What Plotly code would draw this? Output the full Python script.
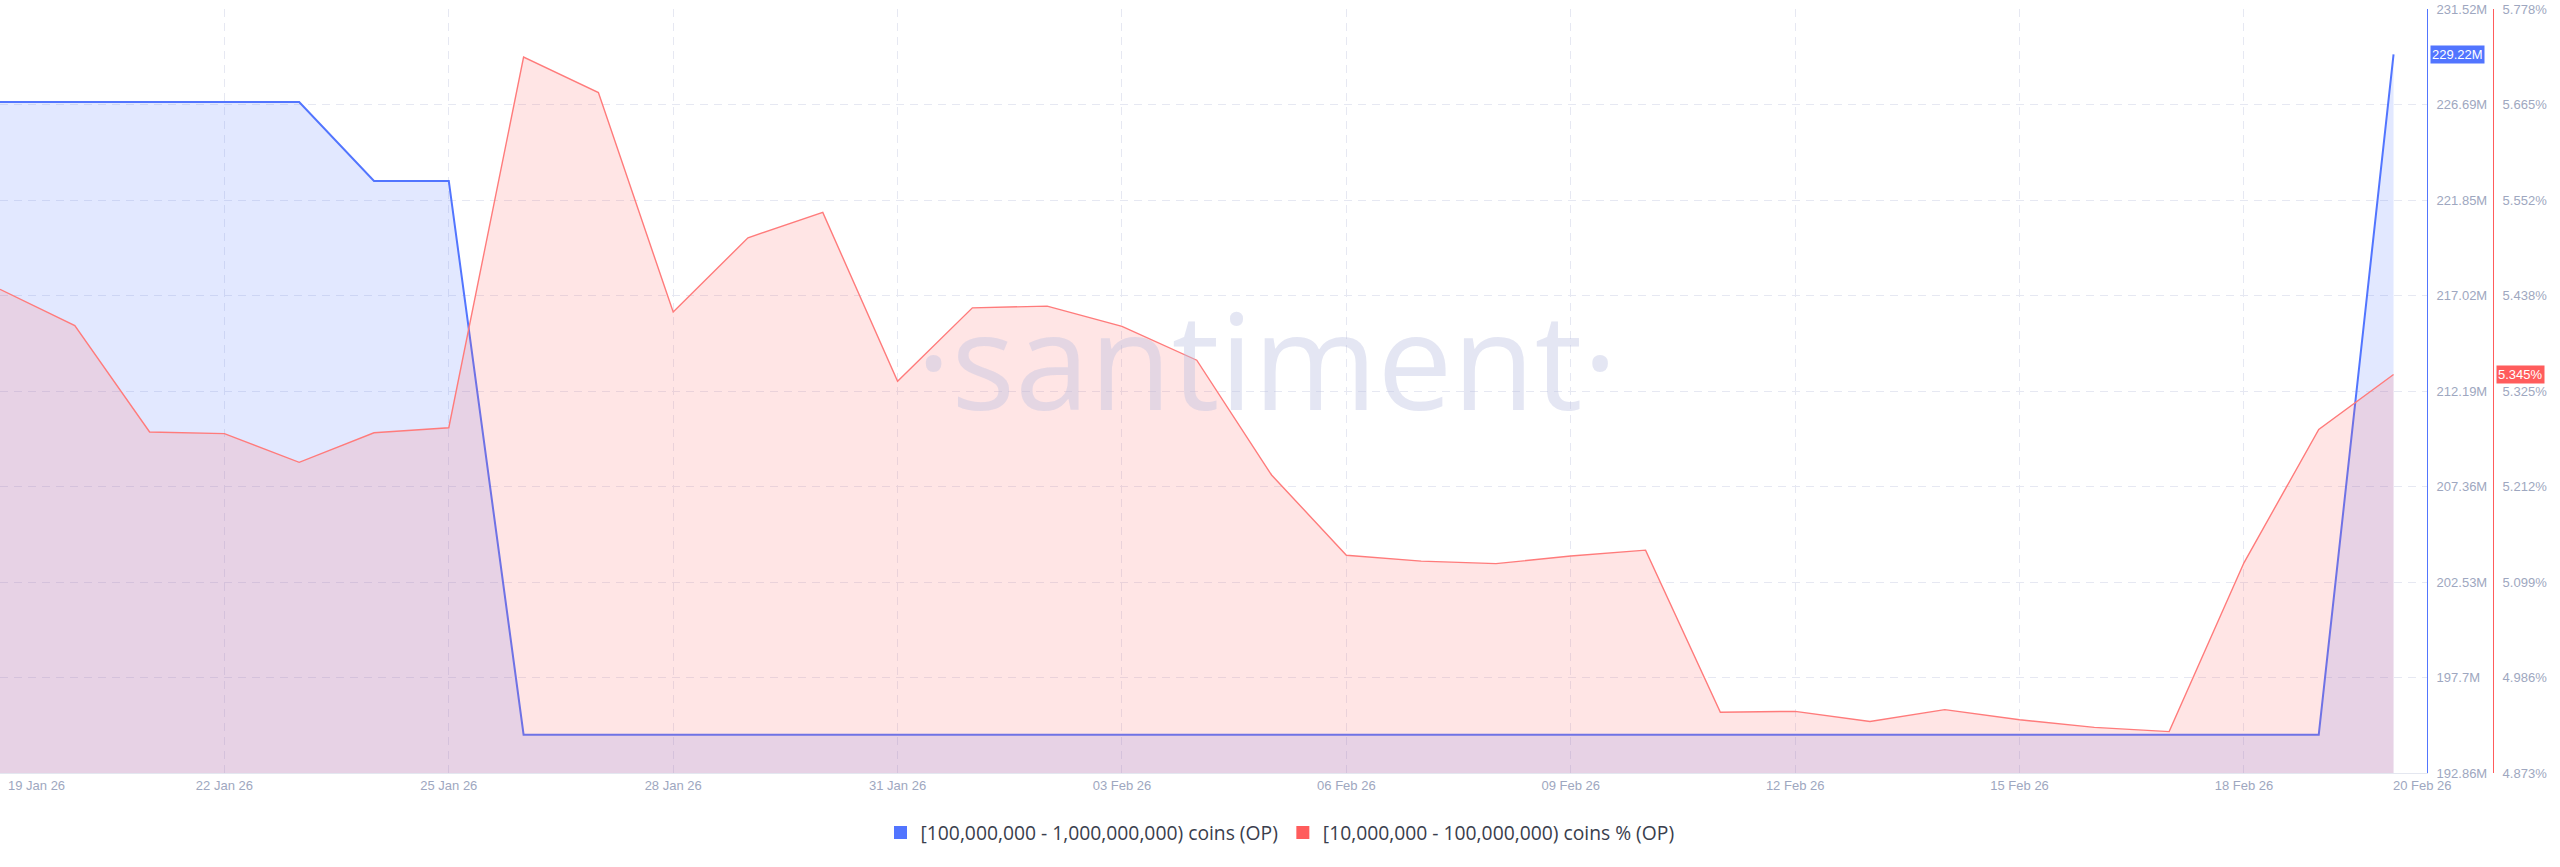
import numpy as np
import pandas as pd
import plotly.graph_objects as go

# ---------------- data ----------------
dates = pd.date_range("2026-01-19", "2026-02-20", freq="D")

# [100,000,000 - 1,000,000,000) coins (OP)  -- millions of OP
holders_100m_1b = [
    226.81, 226.81, 226.81, 226.81, 226.81, 222.82, 222.82, 194.80, 194.80, 194.80,
    194.80, 194.80, 194.80, 194.80, 194.80, 194.80, 194.80, 194.80, 194.80, 194.80,
    194.80, 194.80, 194.80, 194.80, 194.80, 194.80, 194.80, 194.80, 194.80, 194.80,
    194.80, 194.80, 229.22,
]

# [10,000,000 - 100,000,000) coins % (OP)
share_10m_100m = [
    5.446, 5.403, 5.277, 5.275, 5.241, 5.276, 5.282, 5.721, 5.679, 5.419,
    5.507, 5.537, 5.337, 5.424, 5.426, 5.402, 5.362, 5.226, 5.131, 5.124,
    5.121, 5.130, 5.137, 4.945, 4.946, 4.934, 4.948, 4.936, 4.927, 4.922,
    5.122, 5.280, 5.345,
]

blue_tick_labels = ["192.86M", "197.7M", "202.53M", "207.36M", "212.19M",
                    "217.02M", "221.85M", "226.69M", "231.52M"]
red_tick_labels = ["4.873%", "4.986%", "5.099%", "5.212%", "5.325%",
                   "5.438%", "5.552%", "5.665%", "5.778%"]
blue_range = [192.86, 231.52]
red_range = [4.873, 5.778]

x_tick_dates = ["2026-01-19", "2026-01-22", "2026-01-25", "2026-01-28", "2026-01-31",
                "2026-02-03", "2026-02-06", "2026-02-09", "2026-02-12", "2026-02-15",
                "2026-02-18", "2026-02-20"]
x_tick_labels = ["19 Jan 26", "22 Jan 26", "25 Jan 26", "28 Jan 26", "31 Jan 26",
                 "03 Feb 26", "06 Feb 26", "09 Feb 26", "12 Feb 26", "15 Feb 26",
                 "18 Feb 26", "20 Feb 26"]

name_blue = "[100,000,000 - 1,000,000,000) coins (OP)"
name_red = "[10,000,000 - 100,000,000) coins % (OP)"

# ---------------- styles ----------------
W, H = 2560, 867
BLUE = "#5275ff"
RED_LINE = "#ff7b7b"
RED = "#ff5c5c"
GRID = "#e6e8f2"
TICK = "#9ea7c0"
FONT = "Liberation Sans, Arial, sans-serif"

plot_right = 2427
red_axis_x = 2493

fig = go.Figure()

fig.add_trace(go.Scatter(
    x=dates, y=holders_100m_1b, mode="lines",
    line=dict(color=BLUE, width=2),
    fill="tozeroy", fillcolor="rgba(82,117,255,0.17)",
    yaxis="y", showlegend=False, hoverinfo="skip",
))
fig.add_trace(go.Scatter(
    x=dates, y=share_10m_100m, mode="lines",
    line=dict(color=RED_LINE, width=1.4),
    fill="tozeroy", fillcolor="rgba(255,100,100,0.17)",
    yaxis="y2", showlegend=False, hoverinfo="skip",
))

# legend entries (square swatches)
fig.add_trace(go.Scatter(x=[None], y=[None], mode="markers", name=name_blue,
                         marker=dict(symbol="square", size=13, color=BLUE)))
fig.add_trace(go.Scatter(x=[None], y=[None], mode="markers", name=name_red,
                         marker=dict(symbol="square", size=13, color=RED), yaxis="y2"))

blue_vals = list(np.linspace(blue_range[0], blue_range[1], len(blue_tick_labels)))
red_vals = list(np.linspace(red_range[0], red_range[1], len(red_tick_labels)))

mid_ticks = x_tick_dates[1:-1]
mid_labels = x_tick_labels[1:-1]

fig.update_layout(
    width=W, height=H,
    margin=dict(l=0, r=0, t=9, b=94),
    paper_bgcolor="white", plot_bgcolor="white",
    font=dict(family=FONT, size=13, color=TICK),
    xaxis=dict(
        domain=[0, plot_right / W],
        range=["2026-01-19", "2026-02-20 10:44"],
        tickvals=[x_tick_dates[0]] + mid_ticks,
        ticktext=[""] + mid_labels,
        showgrid=True, gridcolor=GRID, griddash="8px,6px", gridwidth=1,
        showline=True, linecolor="#e4e7f0", linewidth=1,
        ticks="", zeroline=False,
        tickfont=dict(family=FONT, size=13, color=TICK),
    ),
    yaxis=dict(
        range=[blue_range[0] - 1e-4, blue_range[1] + 1e-4],
        side="right", anchor="x",
        tickvals=blue_vals, ticktext=blue_tick_labels,
        showgrid=True, gridcolor=GRID, griddash="8px,6px", gridwidth=1,
        showline=True, linecolor=BLUE, linewidth=1,
        ticks="", zeroline=False, ticklabelstandoff=6,
        tickfont=dict(family=FONT, size=13, color=TICK),
    ),
    yaxis2=dict(
        range=[red_range[0] - 1e-6, red_range[1] + 1e-6],
        overlaying="y", side="right", anchor="free", position=red_axis_x / W,
        tickvals=red_vals, ticktext=red_tick_labels,
        showgrid=False,
        showline=True, linecolor=RED, linewidth=1,
        ticks="", zeroline=False, ticklabelstandoff=6,
        tickfont=dict(family=FONT, size=13, color=TICK),
    ),
    legend=dict(
        orientation="h", x=0.5, xanchor="center",
        y=(773 - 833) / 764, yanchor="middle",
        font=dict(family="Open Sans, sans-serif", size=19.3, color="#3a3e4d"),
        itemwidth=30, bgcolor="rgba(0,0,0,0)",
    ),
    showlegend=True,
)

annotations = [
    # watermark
    dict(text="·santiment·", xref="paper", yref="paper",
         x=1267 / W, y=0.543, xanchor="center", yanchor="middle", showarrow=False,
         font=dict(family="Open Sans, sans-serif",
                   size=134, color="rgba(188,193,225,0.40)")),
    # edge date labels
    dict(text=x_tick_labels[0], xref="x", yref="paper", x=x_tick_dates[0],
         y=(773 - 785) / 764, xanchor="left", yanchor="middle", xshift=6,
         showarrow=False, font=dict(family=FONT, size=13, color=TICK)),
    dict(text=x_tick_labels[-1], xref="x", yref="paper", x=x_tick_dates[-1],
         y=(773 - 785) / 764, xanchor="left", yanchor="middle", xshift=-3,
         showarrow=False, font=dict(family=FONT, size=13, color=TICK)),
    # last-value badges
    dict(text=f"{holders_100m_1b[-1]:.2f}M", xref="paper", yref="y",
         x=2430 / W, y=holders_100m_1b[-1], xanchor="left", yanchor="middle",
         showarrow=False, bgcolor=BLUE, borderpad=1,
         font=dict(family=FONT, size=13, color="white")),
    dict(text=f"{share_10m_100m[-1]:.3f}%", xref="paper", yref="y2",
         x=2496 / W, y=share_10m_100m[-1], xanchor="left", yanchor="middle",
         showarrow=False, bgcolor=RED, borderpad=1,
         font=dict(family=FONT, size=13, color="white")),
]
fig.update_layout(annotations=annotations)

fig.write_html("out.html")
